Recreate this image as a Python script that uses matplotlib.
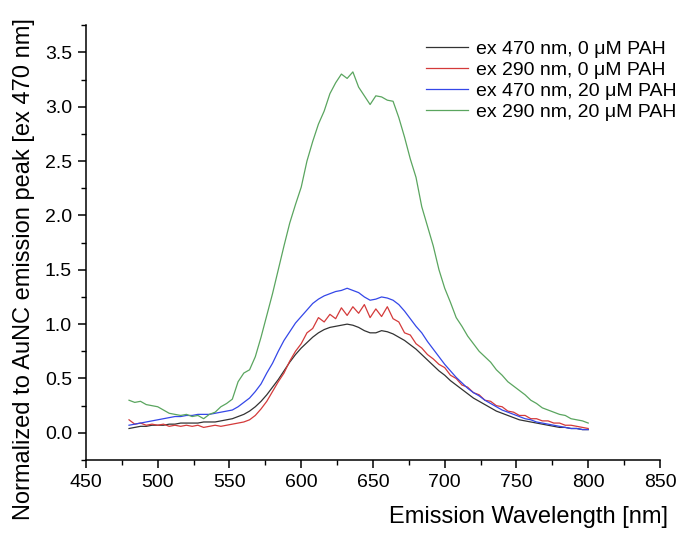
import numpy as np
import matplotlib
matplotlib.use('Agg')
import matplotlib.pyplot as plt
from matplotlib.ticker import MultipleLocator

# Emission wavelength grid (nm), read every 4 nm
wavelength = np.arange(480, 801, 4)

# ex 470 nm, 0 uM PAH
black_470_0 = [0.04, 0.05, 0.06, 0.06, 0.07, 0.07, 0.07, 0.08, 0.08, 0.09,
               0.09, 0.09, 0.09, 0.10, 0.10, 0.10, 0.11, 0.12, 0.13, 0.15,
               0.17, 0.20, 0.24, 0.29, 0.35, 0.42, 0.49, 0.57, 0.65, 0.72,
               0.78, 0.83, 0.88, 0.92, 0.95, 0.97, 0.98, 0.99, 1.00, 0.99,
               0.97, 0.94, 0.92, 0.92, 0.94, 0.93, 0.91, 0.88, 0.85, 0.81,
               0.77, 0.72, 0.67, 0.62, 0.57, 0.53, 0.48, 0.44, 0.40, 0.36,
               0.32, 0.29, 0.26, 0.23, 0.20, 0.18, 0.16, 0.14, 0.12, 0.11,
               0.10, 0.09, 0.08, 0.07, 0.06, 0.05, 0.05, 0.04, 0.04, 0.03,
               0.03]

# ex 290 nm, 0 uM PAH
red_290_0 = [0.12, 0.08, 0.09, 0.07, 0.08, 0.07, 0.08, 0.06, 0.07, 0.06,
             0.07, 0.06, 0.07, 0.05, 0.06, 0.07, 0.06, 0.07, 0.08, 0.09,
             0.10, 0.12, 0.16, 0.22, 0.29, 0.38, 0.47, 0.55, 0.66, 0.75,
             0.82, 0.92, 0.96, 1.06, 1.02, 1.09, 1.05, 1.15, 1.08, 1.16,
             1.10, 1.18, 1.06, 1.14, 1.07, 1.16, 1.05, 1.02, 0.92, 0.90,
             0.82, 0.78, 0.72, 0.68, 0.63, 0.60, 0.53, 0.50, 0.44, 0.42,
             0.37, 0.35, 0.30, 0.29, 0.25, 0.24, 0.20, 0.19, 0.16, 0.16,
             0.13, 0.13, 0.11, 0.11, 0.09, 0.09, 0.07, 0.07, 0.06, 0.05,
             0.04]

# ex 470 nm, 20 uM PAH
blue_470_20 = [0.07, 0.08, 0.09, 0.10, 0.11, 0.12, 0.13, 0.14, 0.15, 0.15,
               0.16, 0.16, 0.17, 0.17, 0.17, 0.18, 0.19, 0.20, 0.21, 0.24,
               0.28, 0.32, 0.38, 0.45, 0.55, 0.64, 0.75, 0.85, 0.93, 1.01,
               1.07, 1.13, 1.19, 1.23, 1.26, 1.28, 1.30, 1.31, 1.33, 1.31,
               1.29, 1.25, 1.22, 1.23, 1.25, 1.24, 1.22, 1.18, 1.12, 1.05,
               0.98, 0.92, 0.84, 0.77, 0.70, 0.63, 0.57, 0.51, 0.46, 0.41,
               0.37, 0.34, 0.30, 0.27, 0.24, 0.21, 0.19, 0.17, 0.15, 0.13,
               0.12, 0.10, 0.09, 0.08, 0.07, 0.06, 0.05, 0.04, 0.04, 0.03,
               0.03]

# ex 290 nm, 20 uM PAH
green_290_20 = [0.30, 0.28, 0.29, 0.26, 0.25, 0.24, 0.21, 0.18, 0.17, 0.16,
                0.17, 0.15, 0.16, 0.13, 0.17, 0.19, 0.24, 0.27, 0.31, 0.47,
                0.55, 0.58, 0.70, 0.88, 1.08, 1.28, 1.50, 1.72, 1.93, 2.10,
                2.26, 2.50, 2.68, 2.84, 2.96, 3.12, 3.22, 3.30, 3.26, 3.32,
                3.18, 3.10, 3.02, 3.10, 3.09, 3.06, 3.05, 2.90, 2.72, 2.52,
                2.35, 2.08, 1.90, 1.72, 1.50, 1.33, 1.20, 1.06, 0.98, 0.89,
                0.82, 0.75, 0.70, 0.65, 0.58, 0.53, 0.47, 0.43, 0.39, 0.35,
                0.30, 0.27, 0.23, 0.21, 0.19, 0.17, 0.16, 0.13, 0.12, 0.11,
                0.09]

labels = ['ex 470 nm, 0 \u03bcM PAH', 'ex 290 nm, 0 \u03bcM PAH',
          'ex 470 nm, 20 \u03bcM PAH', 'ex 290 nm, 20 \u03bcM PAH']
colors = ['#333333', '#d43a3a', '#3447e8', '#5aa55f']

plt.rcParams['font.family'] = ['Liberation Sans', 'DejaVu Sans']

fig = plt.figure(figsize=(6.78, 5.47), dpi=100)
ax = fig.add_axes([0.1268, 0.159, 0.8466, 0.795])

for series, lab, col in zip([black_470_0, red_290_0, blue_470_20, green_290_20], labels, colors):
    ax.plot(wavelength, series, color=col, lw=0.9, label=lab)

ax.set_xlim(450, 850)
ax.set_ylim(-0.25, 3.75)
ax.xaxis.set_major_locator(MultipleLocator(50))
ax.xaxis.set_minor_locator(MultipleLocator(25))
ax.yaxis.set_major_locator(MultipleLocator(0.5))
ax.yaxis.set_minor_locator(MultipleLocator(0.25))
ax.yaxis.set_major_formatter(matplotlib.ticker.FormatStrFormatter('%.1f'))

# only left and bottom axis lines
for side in ['top', 'right']:
    ax.spines[side].set_visible(False)
for side in ['left', 'bottom']:
    ax.spines[side].set_linewidth(1.1)

ax.tick_params(which='major', direction='out', length=6, width=1.1, labelsize=14, pad=4)
ax.tick_params(which='minor', direction='out', length=3.5, width=1.0)

ax.set_xlabel('Emission Wavelength [nm]', fontsize=17, ha='right')
ax.xaxis.set_label_coords(1.014, -0.105)
ax.set_ylabel('Normalized to AuNC emission peak [ex 470 nm]', fontsize=17)
ax.yaxis.set_label_coords(-0.089, 0.44)

ax.legend(loc='upper right', bbox_to_anchor=(1.042, 0.984), frameon=False,
          fontsize=14, handlelength=2.15, handletextpad=0.42, labelspacing=0.185,
          borderaxespad=0)

fig.savefig('out.png', dpi=100)
